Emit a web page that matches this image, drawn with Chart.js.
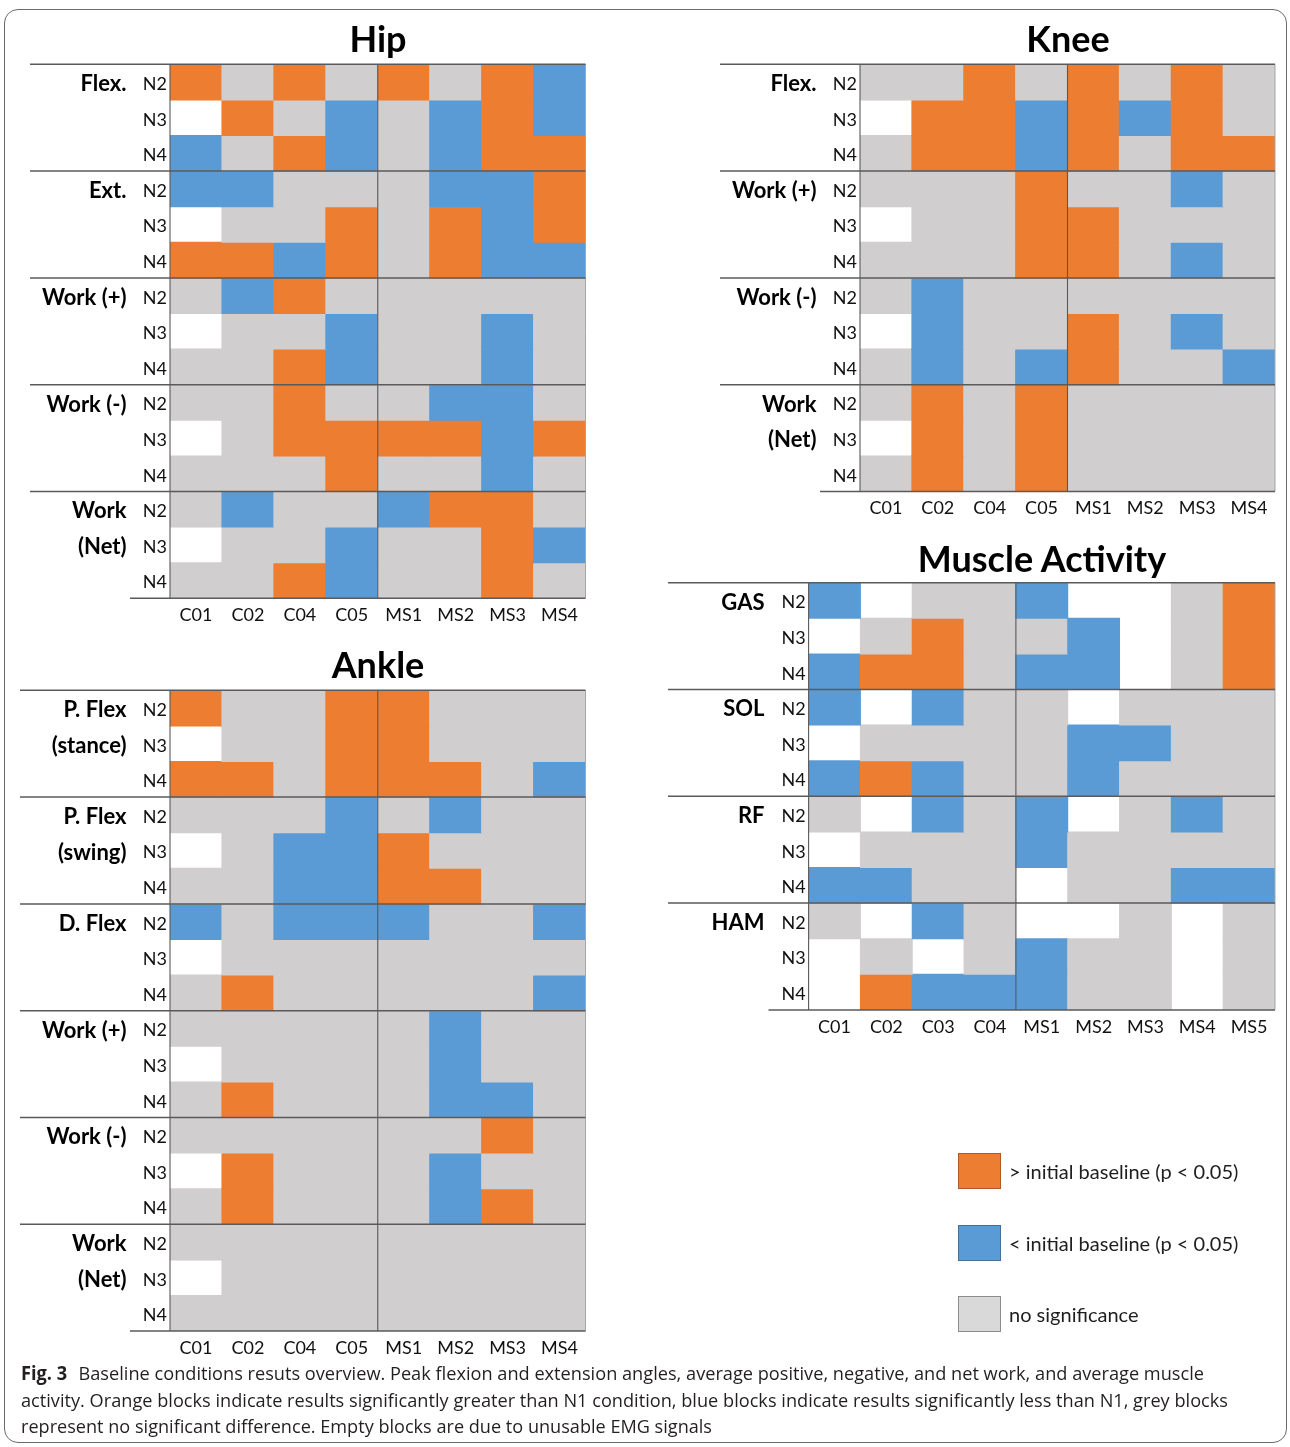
<!DOCTYPE html>
<html>
<head>
<meta charset="utf-8">
<script src="https://cdn.jsdelivr.net/npm/chart.js@4.4.1/dist/chart.umd.min.js"></script>
<style>
  html, body { margin: 0; padding: 0; background: #fff; }
  #page { position: relative; width: 1290px; height: 1447px; overflow: hidden; font-family: Lato, "Open Sans", sans-serif; }
  canvas.panel { position: absolute; left: 0; top: 0; pointer-events: none; }
  .frame { position: absolute; left: 4px; top: 9px; width: 1283px; height: 1434px; border: 1.5px solid #6a6a6a; border-radius: 14px; box-sizing: border-box; }
  .title { position: absolute; font: bold 36px Lato, sans-serif; line-height: 36px; color: #000; white-space: nowrap; transform: translateX(-50%); }
  .key-box { position: absolute; width: 43px; height: 36px; box-sizing: border-box; border: 1.2px solid; }
  .key-text { position: absolute; font: 20px Lato, sans-serif; line-height: 36px; color: #1e1e1e; white-space: nowrap; }
  .caption { position: absolute; left: 21px; font: 19px "Open Sans", sans-serif; line-height: 26.5px; color: #231f20; white-space: nowrap; transform-origin: 0 0; }
  .caption b { font-weight: 700; margin-right: 7px; }
</style>
</head>
<body>
<div id="page">
  <div class="frame"></div>
  <canvas class="panel" id="hip" width="1290" height="1447"></canvas>
  <canvas class="panel" id="knee" width="1290" height="1447"></canvas>
  <canvas class="panel" id="ankle" width="1290" height="1447"></canvas>
  <canvas class="panel" id="muscle" width="1290" height="1447"></canvas>

  <div class="title" style="left:378px; top:20px;">Hip</div>
  <div class="title" style="left:1068px; top:20px;">Knee</div>
  <div class="title" style="left:378px; top:646px;">Ankle</div>
  <div class="title" style="left:1042px; top:540px;">Muscle Activity</div>

  <div class="key-box" style="left:958px; top:1153px; background:#ED7D31; border-color:#AE5A21;"></div>
  <div class="key-text" style="left:1009px; top:1153px;">&gt; initial baseline (p &lt; 0.05)</div>
  <div class="key-box" style="left:958px; top:1225px; background:#5B9BD5; border-color:#41719C;"></div>
  <div class="key-text" style="left:1009px; top:1225px;">&lt; initial baseline (p &lt; 0.05)</div>
  <div class="key-box" style="left:958px; top:1296px; background:#D9D9D9; border-color:#8C8C8C;"></div>
  <div class="key-text" style="left:1009px; top:1296px;">no significance</div>

  <div class="caption" id="cap1" style="top:1360px;" data-w="1183"><b>Fig. 3</b> Baseline conditions resuts overview. Peak flexion and extension angles, average positive, negative, and net work, and average muscle</div>
  <div class="caption" id="cap2" style="top:1386.5px;" data-w="1207">activity. Orange blocks indicate results significantly greater than N1 condition, blue blocks indicate results significantly less than N1, grey blocks</div>
  <div class="caption" id="cap3" style="top:1413px;" data-w="691">represent no significant difference. Empty blocks are due to unusable EMG signals</div>
</div>

<script>
// Outcome codes: 1 = above initial baseline, -1 = below, 0 = no significance, null = empty (unusable signal)
const levels = ['N2', 'N3', 'N4'];

const jointCols = ['C01', 'C02', 'C04', 'C05', 'MS1', 'MS2', 'MS3', 'MS4'];
const muscleCols = ['C01', 'C02', 'C03', 'C04', 'MS1', 'MS2', 'MS3', 'MS4', 'MS5'];

const hipGroups = ['Flex.', 'Ext.', 'Work (+)', 'Work (-)', 'Work\n(Net)'];
const hipValues = [
  [1, 0, 1, 0, 1, 0, 1, -1],
  [null, 1, 0, -1, 0, -1, 1, -1],
  [-1, 0, 1, -1, 0, -1, 1, 1],
  [-1, -1, 0, 0, 0, -1, -1, 1],
  [null, 0, 0, 1, 0, 1, -1, 1],
  [1, 1, -1, 1, 0, 1, -1, -1],
  [0, -1, 1, 0, 0, 0, 0, 0],
  [null, 0, 0, -1, 0, 0, -1, 0],
  [0, 0, 1, -1, 0, 0, -1, 0],
  [0, 0, 1, 0, 0, -1, -1, 0],
  [null, 0, 1, 1, 1, 1, -1, 1],
  [0, 0, 0, 1, 0, 0, -1, 0],
  [0, -1, 0, 0, -1, 1, 1, 0],
  [null, 0, 0, -1, 0, 0, 1, -1],
  [0, 0, 1, -1, 0, 0, 1, 0]
];

const kneeGroups = ['Flex.', 'Work (+)', 'Work (-)', 'Work\n(Net)'];
const kneeValues = [
  [0, 0, 1, 0, 1, 0, 1, 0],
  [null, 1, 1, -1, 1, -1, 1, 0],
  [0, 1, 1, -1, 1, 0, 1, 1],
  [0, 0, 0, 1, 0, 0, -1, 0],
  [null, 0, 0, 1, 1, 0, 0, 0],
  [0, 0, 0, 1, 1, 0, -1, 0],
  [0, -1, 0, 0, 0, 0, 0, 0],
  [null, -1, 0, 0, 1, 0, -1, 0],
  [0, -1, 0, -1, 1, 0, 0, -1],
  [0, 1, 0, 1, 0, 0, 0, 0],
  [null, 1, 0, 1, 0, 0, 0, 0],
  [0, 1, 0, 1, 0, 0, 0, 0]
];

const ankleGroups = ['P. Flex\n(stance)', 'P. Flex\n(swing)', 'D. Flex', 'Work (+)', 'Work (-)', 'Work\n(Net)'];
const ankleValues = [
  [1, 0, 0, 1, 1, 0, 0, 0],
  [null, 0, 0, 1, 1, 0, 0, 0],
  [1, 1, 0, 1, 1, 1, 0, -1],
  [0, 0, 0, -1, 0, -1, 0, 0],
  [null, 0, -1, -1, 1, 0, 0, 0],
  [0, 0, -1, -1, 1, 1, 0, 0],
  [-1, 0, -1, -1, -1, 0, 0, -1],
  [null, 0, 0, 0, 0, 0, 0, 0],
  [0, 1, 0, 0, 0, 0, 0, -1],
  [0, 0, 0, 0, 0, -1, 0, 0],
  [null, 0, 0, 0, 0, -1, 0, 0],
  [0, 1, 0, 0, 0, -1, -1, 0],
  [0, 0, 0, 0, 0, 0, 1, 0],
  [null, 1, 0, 0, 0, -1, 0, 0],
  [0, 1, 0, 0, 0, -1, 1, 0],
  [0, 0, 0, 0, 0, 0, 0, 0],
  [null, 0, 0, 0, 0, 0, 0, 0],
  [0, 0, 0, 0, 0, 0, 0, 0]
];

const muscleGroups = ['GAS', 'SOL', 'RF', 'HAM'];
const muscleValues = [
  [-1, null, 0, 0, -1, null, null, 0, 1],
  [null, 0, 1, 0, 0, -1, null, 0, 1],
  [-1, 1, 1, 0, -1, -1, null, 0, 1],
  [-1, null, -1, 0, 0, null, 0, 0, 0],
  [null, 0, 0, 0, 0, -1, -1, 0, 0],
  [-1, 1, -1, 0, 0, -1, 0, 0, 0],
  [0, null, -1, 0, -1, null, 0, -1, 0],
  [null, 0, 0, 0, -1, 0, 0, 0, 0],
  [-1, -1, 0, 0, null, 0, 0, -1, -1],
  [0, null, -1, 0, null, null, 0, null, 0],
  [null, 0, null, 0, -1, 0, 0, null, 0],
  [null, 1, -1, -1, -1, 0, 0, null, 0]
];

const PALETTE = { up: '#ED7D31', down: '#5B9BD5', none: '#D0CECE' };
function cellColor(v) {
  return v === 1 ? PALETTE.up : v === -1 ? PALETTE.down : PALETTE.none;
}

// Separator rules, group captions and frame lines for one heat-map panel
const panelDecor = {
  id: 'panelDecor',
  afterDatasetsDraw(chart, args, o) {
    const { ctx, chartArea: a, scales: { x, y } } = chart;
    const nRows = o.rows;
    const line = (x1, y1, x2, y2) => { ctx.beginPath(); ctx.moveTo(x1, y1); ctx.lineTo(x2, y2); ctx.stroke(); };
    ctx.save();
    // faint right edge
    ctx.strokeStyle = '#a6a6a6'; ctx.lineWidth = 1;
    line(a.right, a.top, a.right, a.bottom);
    // split between control and MS columns
    const mx = (x.getPixelForValue(o.midCol - 1) + x.getPixelForValue(o.midCol)) / 2;
    ctx.strokeStyle = '#595959'; ctx.lineWidth = 1.1;
    line(mx, a.top, mx, a.bottom);
    line(a.left, a.top, a.left, a.bottom);
    // group separators
    ctx.lineWidth = 1.5; ctx.strokeStyle = '#5a5a5a';
    for (let r = 0; r < nRows; r += 3) {
      const py = y.getPixelForValue(r);
      line(o.ruleStart, py, a.right, py);
    }
    const pb = y.getPixelForValue(nRows);
    line(o.baseStart, pb, a.right, pb);
    // group captions
    ctx.fillStyle = '#000';
    ctx.font = 'bold 22px Lato, sans-serif';
    ctx.textAlign = 'right';
    ctx.textBaseline = 'middle';
    o.groups.forEach((g, gi) => {
      g.split('\n').forEach((txt, k) => {
        ctx.fillText(txt, o.labelRight, y.getPixelForValue(gi * 3 + k + 0.5) + 2);
      });
    });
    ctx.restore();
  }
};

function buildPanel(id, cols, groups, values, box) {
  const nRows = values.length;
  const W = 1290, H = 1447, axisH = 40;
  const datasets = values.map((row, r) => ({
    label: levels[r % 3],
    data: row.map(v => (v === null ? null : [r, r + 1])),
    backgroundColor: row.map(cellColor),
    borderWidth: 0,
    inflateAmount: 0.5,
    barPercentage: 1,
    categoryPercentage: 1,
    grouped: false
  }));
  return new Chart(document.getElementById(id), {
    type: 'bar',
    data: { labels: cols, datasets },
    plugins: [panelDecor],
    options: {
      responsive: false,
      animation: false,
      events: [],
      layout: { padding: { left: 0, top: box.top, right: W - box.right, bottom: H - box.bottom - axisH } },
      plugins: {
        legend: { display: false },
        tooltip: { enabled: false },
        panelDecor: { rows: nRows, groups, midCol: 4, labelRight: box.labelRight, ruleStart: box.ruleStart, baseStart: box.baseStart }
      },
      scales: {
        x: {
          type: 'category',
          grid: { display: false, drawTicks: false },
          border: { display: false },
          ticks: { color: '#111', font: { family: 'Lato', size: 18 }, padding: 6, autoSkip: false, maxRotation: 0 },
          afterFit: s => { s.height = axisH; }
        },
        y: {
          type: 'linear',
          min: 0,
          max: nRows,
          reverse: true,
          grid: { display: false, drawTicks: false },
          border: { display: false },
          // one label per row, set a touch below the row middle so the glyphs sit centred
          afterBuildTicks: s => { s.ticks = values.map((_, i) => ({ value: i + 0.56 })); },
          ticks: {
            color: '#111',
            font: { family: 'Lato', size: 18 },
            padding: 3,
            autoSkip: false,
            callback: (v, i) => levels[i % 3]
          },
          afterFit: s => { s.width = box.left; }
        }
      }
    }
  });
}

buildPanel('hip', jointCols, hipGroups, hipValues,
  { left: 170, right: 585.5, top: 64.3, bottom: 598.3, labelRight: 126.5, ruleStart: 30, baseStart: 130 });
buildPanel('knee', jointCols, kneeGroups, kneeValues,
  { left: 860, right: 1275, top: 64.3, bottom: 491.5, labelRight: 816.5, ruleStart: 720, baseStart: 820 });
buildPanel('ankle', jointCols, ankleGroups, ankleValues,
  { left: 170, right: 585.5, top: 690.3, bottom: 1331.1, labelRight: 126.5, ruleStart: 20, baseStart: 130 });
buildPanel('muscle', muscleCols, muscleGroups, muscleValues,
  { left: 808.6, right: 1275, top: 582.7, bottom: 1009.9, labelRight: 764.5, ruleStart: 668, baseStart: 768.5 });

// Fit each caption line to its column width
document.querySelectorAll('.caption').forEach(el => {
  const target = parseFloat(el.dataset.w);
  const natural = el.getBoundingClientRect().width;
  el.style.transform = 'scaleX(' + (target / natural) + ')';
});
</script>
</body>
</html>
